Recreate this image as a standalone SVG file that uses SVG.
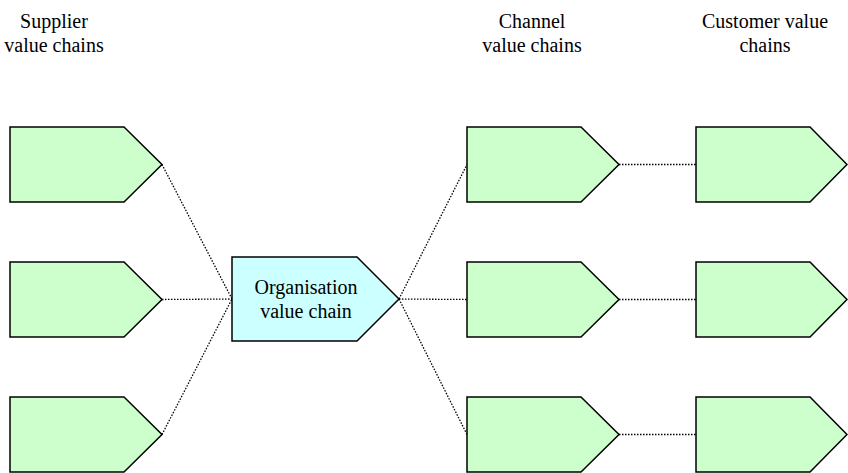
<svg xmlns="http://www.w3.org/2000/svg" width="848" height="473" viewBox="0 0 848 473">
<style>
.g{fill:#ccffcc;stroke:#000;stroke-width:1.5;stroke-linejoin:miter}
.o{fill:#ccffff;stroke:#000;stroke-width:1.5}
.c{stroke:#000;stroke-width:1.3;stroke-dasharray:1.5 1.5;fill:none}
.t{font-family:'Liberation Serif','Times New Roman',Times,serif;font-size:20px;fill:#000;text-anchor:middle}
</style>
<rect width="848" height="473" fill="#fff"/>
<g id="headers" class="t">
<text x="54" y="28">Supplier</text><text x="54" y="52">value chains</text>
<text x="532" y="28">Channel</text><text x="532" y="52">value chains</text>
<text x="765" y="28">Customer value</text><text x="765" y="52">chains</text>
</g>
<g id="connectors">
<line class="c" x1="162" y1="164.5" x2="232" y2="299"/>
<line class="c" x1="162" y1="299.5" x2="232" y2="299"/>
<line class="c" x1="162" y1="434.5" x2="232" y2="299"/>
<line class="c" x1="399" y1="299" x2="467" y2="164.5"/>
<line class="c" x1="399" y1="299" x2="467" y2="299.5"/>
<line class="c" x1="399" y1="299" x2="467" y2="434.5"/>
<line class="c" x1="619" y1="164.5" x2="696" y2="164.5"/>
<line class="c" x1="619" y1="299.5" x2="696" y2="299.5"/>
<line class="c" x1="619" y1="434.5" x2="696" y2="434.5"/>
</g>
<g id="supplier1"><path class="g" d="M10 127H124L162 164.5L124 202H10Z"/></g>
<g id="supplier2"><path class="g" d="M10 262H124L162 299.5L124 337H10Z"/></g>
<g id="supplier3"><path class="g" d="M10 397H124L162 434.5L124 472H10Z"/></g>
<g id="organisation"><path class="o" d="M232 257H357L399 299L357 341H232Z"/>
<g class="t"><text x="306" y="294">Organisation</text><text x="306" y="318">value chain</text></g></g>
<g id="channel1"><path class="g" d="M467 127H581L619 164.5L581 202H467Z"/></g>
<g id="channel2"><path class="g" d="M467 262H581L619 299.5L581 337H467Z"/></g>
<g id="channel3"><path class="g" d="M467 397H581L619 434.5L581 472H467Z"/></g>
<g id="customer1"><path class="g" d="M696 127H810L847 164.5L810 202H696Z"/></g>
<g id="customer2"><path class="g" d="M696 262H810L847 299.5L810 337H696Z"/></g>
<g id="customer3"><path class="g" d="M696 397H810L847 434.5L810 472H696Z"/></g>
</svg>
